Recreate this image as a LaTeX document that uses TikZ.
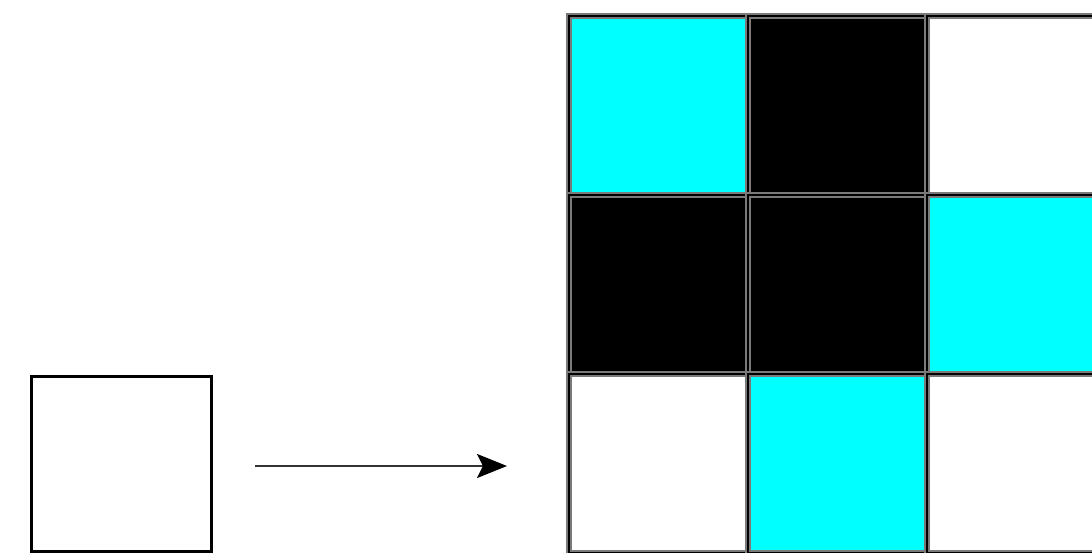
\documentclass[tikz,border=0pt]{standalone}
\usepackage{tikz}
\usetikzlibrary{arrows.meta,positioning}
\definecolor{gridcyan}{HTML}{00FFFF}
\definecolor{gridink}{HTML}{000000}
\definecolor{gridedge}{HTML}{7A7A7A}
\definecolor{arrink}{HTML}{333333}
\tikzset{
  cell/.style={draw=gridedge, double=gridink, double distance=0.6pt, line width=1pt, minimum width=89.5pt, minimum height=89.5pt, inner sep=0pt, anchor=north west},
  srcbox/.style={draw=gridink, line width=1.3pt, fill=white, minimum width=90pt, minimum height=87.5pt, inner sep=0pt, anchor=north west},
  arr/.style={-{Stealth[length=15pt, width=12pt, inset=3pt, color=gridink]}, line width=1.4pt, color=arrink},
}
\begin{document}
\begin{tikzpicture}[x=0.5pt, y=-0.5pt]
    \clip (0,0) rectangle (1092,552);
    \fill[white] (0,0) rectangle (1092,552);
    \node[srcbox] (src) at (30,375) {};
    \coordinate (a0) at (255,466);
    \coordinate (a1) at (507,466);
    \draw[arr] (a0) -- (a1);
    \foreach \nm/\x/\y/\col in {
      c11/568/15/gridcyan, c12/747/15/gridink, c13/926/15/white,
      c21/568/194/gridink, c22/747/194/gridink, c23/926/194/gridcyan,
      c31/568/373/white, c32/747/373/gridcyan, c33/926/373/white}
    {
      \node[cell, fill=\col] (\nm) at (\x,\y) {};
    }
  \end{tikzpicture}
\end{document}
